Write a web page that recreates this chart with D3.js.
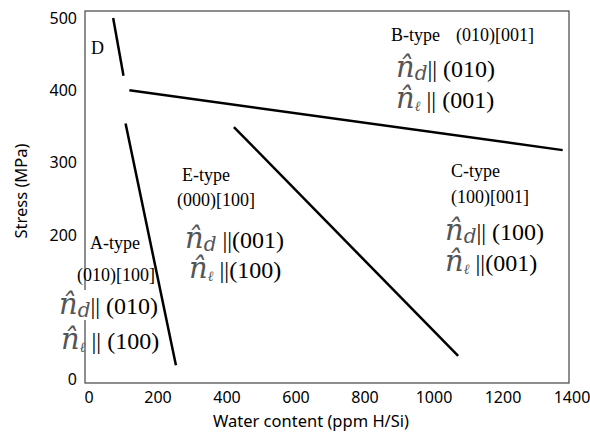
<!DOCTYPE html>
<html>
<head>
<meta charset="utf-8">
<script src="https://cdn.jsdelivr.net/npm/d3@7"></script>
<style>
  body { margin: 0; background: #fff; }
  .tick-label { font-family: "Noto Sans", sans-serif; font-size: 16px; fill: #000; }
  .axis-title { font-family: "Noto Sans", sans-serif; font-size: 16.5px; fill: #000; }
  .serif { font-family: "Liberation Serif", "Times New Roman", serif; fill: #000; }
</style>
</head>
<body>
<div id="chart"></div>
<script>
// tick values
const xTicks = [0, 200, 400, 600, 800, 1000, 1200, 1400];
const yTicks = [0, 200, 300, 400, 500];

// boundary lines (water content, stress)
const lineD = [[70, 500], [100, 420]];
const lineB = [[117, 400], [1373, 317]];
const lineA = [[106, 354], [252, 19]];
const lineC = [[420, 349], [1070, 32]];
const boundaries = [lineD, lineB, lineA, lineC];

// region labels
const regionNames = ["B-type", "E-type", "A-type", "C-type"];
const slipSystems = ["(010)[001]", "(000)[100]", "(010)[100]", "(100)[001]"];
const ndPlanes = ["|| (010)", " ||(001)", "|| (010)", "|| (100)"];
const nlPlanes = [" || (001)", " ||(100)", " || (100)", " ||(001)"];

const width = 590, height = 434;
const frame = { left: 85, top: 11, right: 569, bottom: 383 };

const x = d3.scaleLinear().domain([0, 1400]).range([89, 572]);
const y = d3.scaleLinear().domain([0, 500]).range([379, 18]);

const svg = d3.select("#chart")
  .append("svg")
  .attr("width", width)
  .attr("height", height);

// frame
svg.append("rect")
  .attr("x", frame.left)
  .attr("y", frame.top)
  .attr("width", frame.right - frame.left)
  .attr("height", frame.bottom - frame.top)
  .attr("fill", "none")
  .attr("stroke", "#444")
  .attr("stroke-width", 1.2);

// tick labels
svg.selectAll(".xt")
  .data(xTicks)
  .join("text")
  .attr("class", "tick-label")
  .attr("x", d => x(d))
  .attr("y", 403)
  .attr("text-anchor", "middle")
  .text(d => d);

svg.selectAll(".yt")
  .data(yTicks)
  .join("text")
  .attr("class", "tick-label")
  .attr("x", 77)
  .attr("y", d => y(d) + 6)
  .attr("text-anchor", "end")
  .text(d => d);

// axis titles
svg.append("text")
  .attr("class", "axis-title")
  .attr("x", 311)
  .attr("y", 427)
  .attr("text-anchor", "middle")
  .text("Water content (ppm H/Si)");

svg.append("text")
  .attr("class", "axis-title")
  .attr("transform", "translate(27,191) rotate(-90)")
  .attr("text-anchor", "middle")
  .text("Stress (MPa)");

// white patch where the A-type n-hat sits over the frame
svg.append("rect")
  .attr("x", 60).attr("y", 290).attr("width", 30).attr("height", 30)
  .attr("fill", "#fff");

// boundary lines
const line = d3.line()
  .x(d => x(d[0]))
  .y(d => y(d[1]));

svg.selectAll(".boundary")
  .data(boundaries)
  .join("path")
  .attr("class", "boundary")
  .attr("d", line)
  .attr("fill", "none")
  .attr("stroke", "#000")
  .attr("stroke-width", 2.5);

// "D" label
svg.append("text")
  .attr("class", "serif")
  .attr("x", 91)
  .attr("y", 54)
  .attr("font-size", 18)
  .text("D");

// n-hat lines
function nhat(px, py, sub, rest) {
  const t = svg.append("text")
    .attr("class", "serif")
    .attr("x", px)
    .attr("y", py)
    .attr("font-size", 29);
  t.append("tspan")
    .attr("font-style", "italic")
    .attr("font-family", "DejaVu Serif, serif")
    .attr("fill", "#555")
    .text("n\u0302");
  t.append("tspan")
    .attr("font-style", "italic")
    .attr("font-family", "DejaVu Serif, serif")
    .attr("fill", "#555")
    .attr("font-size", sub === "d" ? 20 : 14)
    .attr("dy", 3)
    .text(sub);
  t.append("tspan")
    .attr("dy", -3)
    .attr("font-size", 24)
    .text(rest);
}

function typeLabel(px, py, s) {
  svg.append("text").attr("class", "serif").attr("x", px).attr("y", py)
    .attr("font-size", 18).text(s);
}

// B-type
typeLabel(391, 41, regionNames[0]);
typeLabel(456, 41, slipSystems[0]);
nhat(396, 77, "d", ndPlanes[0]);
nhat(396, 108, "\u2113", nlPlanes[0]);

// E-type
typeLabel(182, 181, regionNames[1]);
typeLabel(177, 206, slipSystems[1]);
nhat(185, 248, "d", ndPlanes[1]);
nhat(189, 278, "\u2113", nlPlanes[1]);

// A-type
typeLabel(90, 249, regionNames[2]);
typeLabel(77, 281, slipSystems[2]);
nhat(59, 314, "d", ndPlanes[2]);
nhat(61, 349, "\u2113", nlPlanes[2]);

// C-type
typeLabel(451, 177, regionNames[3]);
typeLabel(451, 203, slipSystems[3]);
nhat(445, 240, "d", ndPlanes[3]);
nhat(445, 271, "\u2113", nlPlanes[3]);
</script>
</body>
</html>
